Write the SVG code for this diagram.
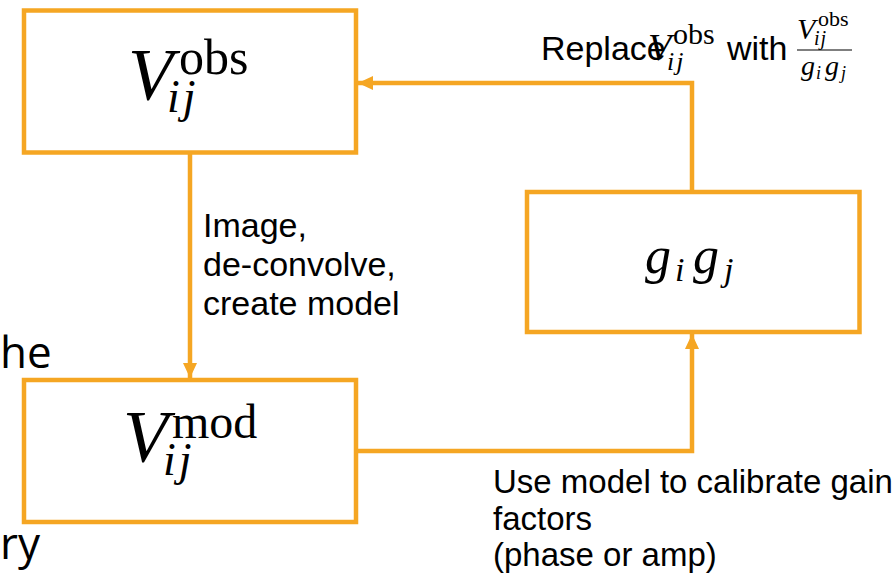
<svg xmlns="http://www.w3.org/2000/svg" width="896" height="585" viewBox="0 0 896 585">
  <defs>
    <style>
      .box { fill: #FFFFFF; stroke: #F5A623; stroke-width: 4.5; }
      .conn { fill: none; stroke: #F5A623; stroke-width: 4.5; }
      .lbl { font-family: "Liberation Sans", Arial, sans-serif; font-size: 34px; fill: #000000; }
      .lbl2 { font-family: "Liberation Sans", Arial, sans-serif; font-size: 33px; fill: #000000; }
      .side { font-family: "Open Sans", "Liberation Sans", sans-serif; font-size: 44px; fill: #000000; }
      .mi { font-family: "Liberation Serif", "Times New Roman", serif; font-style: italic; fill: #000000; }
      .mr { font-family: "Liberation Serif", "Times New Roman", serif; fill: #000000; }
    </style>
    <marker id="arrow" markerUnits="userSpaceOnUse" markerWidth="16" markerHeight="16" refX="15" refY="8" orient="auto">
      <path d="M0,1 L15,8 L0,15 z" fill="#F5A623"/>
    </marker>
  </defs>
  <rect width="896" height="585" fill="#FFFFFF"/>

  <!-- cut-off slide text at left edge -->
  <text class="side" x="0" y="368">he</text>
  <text class="side" x="0" y="559">ry</text>

  <g id="connectors">
    <path class="conn" d="M190,152.5 L190,378" marker-end="url(#arrow)"/>
    <path class="conn" d="M356,451 L692,451 L692,334" marker-end="url(#arrow)"/>
    <path class="conn" d="M692,192 L692,83 L358,83" marker-end="url(#arrow)"/>
  </g>

  <g id="node-vobs">
    <rect class="box" x="24" y="10.5" width="332" height="142"/>
    <text class="mi" x="128" y="100" font-size="74">V</text>
    <text class="mr" x="179" y="74" font-size="50">obs</text>
    <text class="mi" x="167" y="112" font-size="46" letter-spacing="3">ij</text>
  </g>

  <g id="node-vmod">
    <rect class="box" x="24" y="380" width="332" height="142"/>
    <text class="mi" x="123" y="462" font-size="74">V</text>
    <text class="mr" x="172" y="438" font-size="48">mod</text>
    <text class="mi" x="163" y="475" font-size="46" letter-spacing="3">ij</text>
  </g>

  <g id="node-gains">
    <rect class="box" x="527" y="192" width="332.5" height="140"/>
    <text class="mi" x="645" y="273" font-size="52">g</text>
    <text class="mi" x="675" y="281" font-size="34">i</text>
    <text class="mi" x="693" y="273" font-size="52">g</text>
    <text class="mi" x="724" y="281" font-size="34">j</text>
  </g>

  <g id="labels">
    <text class="lbl" x="203" y="237">Image,</text>
    <text class="lbl" x="203" y="276">de-convolve,</text>
    <text class="lbl" x="203" y="315">create model</text>

    <text class="lbl2" x="493" y="493">Use model to calibrate gain</text>
    <text class="lbl2" x="493" y="530">factors</text>
    <text class="lbl2" x="493" y="566">(phase or amp)</text>

    <text class="lbl" x="541" y="60">Replace</text>
    <text class="mi" x="648" y="60" font-size="38">V</text>
    <text class="mr" x="673" y="44" font-size="30">obs</text>
    <text class="mi" x="667" y="70" font-size="26" letter-spacing="2">ij</text>
    <text class="lbl" x="727" y="60">with</text>
    <text class="mi" x="797" y="39" font-size="30">V</text>
    <text class="mr" x="818" y="26" font-size="22">obs</text>
    <text class="mi" x="814" y="45" font-size="20" letter-spacing="1">ij</text>
    <line x1="797" y1="50" x2="852" y2="50" stroke="#000000" stroke-width="1.2"/>
    <text class="mi" x="801" y="75" font-size="28">g</text>
    <text class="mi" x="816" y="79" font-size="18">i</text>
    <text class="mi" x="825" y="75" font-size="28">g</text>
    <text class="mi" x="841" y="79" font-size="18">j</text>
  </g>
</svg>
